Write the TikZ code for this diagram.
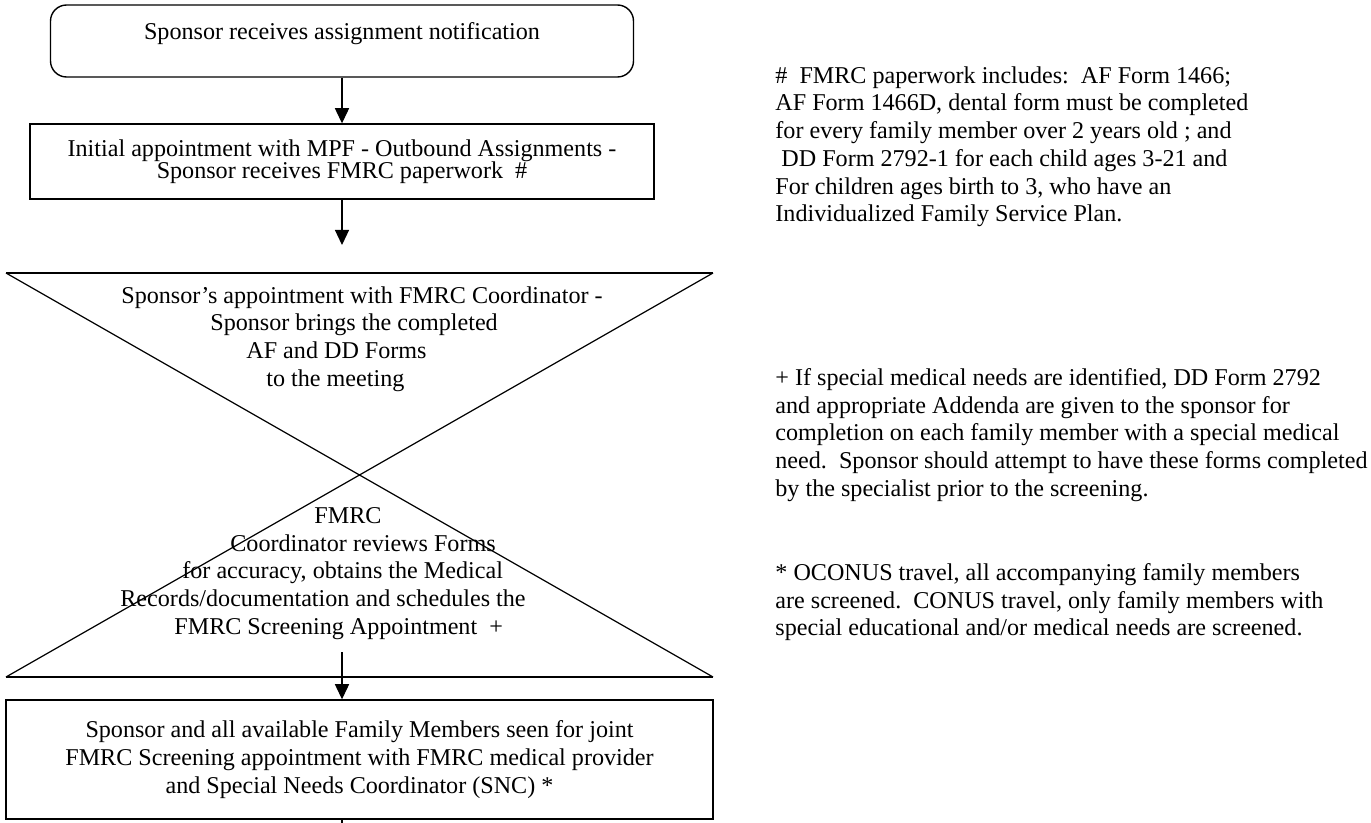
\documentclass[tikz,border=0pt]{standalone}
\usepackage{fontspec}
\setmainfont{Liberation Serif}
\usetikzlibrary{arrows.meta}
\newdimen\pxlen \pxlen=0.4975pt

\begin{document}
\begin{tikzpicture}[x=0.4975pt,y=-0.4975pt,
  every node/.style={font=\fontsize{12}{13.8}\selectfont},
  boite/.style={draw,line width=0.7pt,align=center,inner sep=0pt},
  fleche/.style={-{Triangle[length=7.5pt,width=7pt]},line width=0.6pt},
  note/.style={align=left,anchor=north west,inner sep=0pt}]
\useasboundingbox (0,0) rectangle (1371,823);
% les etapes a gauche
\node[boite,rounded corners=8pt,minimum width=583\pxlen,minimum height=72\pxlen] (notif) at (342,41) {};
\node[inner sep=0pt] (notifT) at (342,34) {Sponsor receives assignment notification};
\node[boite,minimum width=624\pxlen,minimum height=75\pxlen,font=\fontsize{12}{11}\selectfont] (assign) at (342,161.5) {Initial appointment with MPF - Outbound Assignments -\\ Sponsor receives FMRC paperwork\ \ \#};
\coordinate (finA) at (342,245) ;
\draw[fleche] (notif.south) -- (assign.north) ;
\draw[fleche] (assign.south) -- (finA) ;

% le sablier (X)
\coordinate (HG) at (6,273) ; \coordinate (HD) at (713,273) ;
\coordinate (BG) at (6,677) ; \coordinate (BD) at (713,677) ;
\draw[line width=0.6pt] (HD) -- (BG) (HG) -- (BD) ;
\draw[line width=1pt] (HG) -- (HD) (BG) -- (BD) ;
\node[note] (rdv) at (121,286) {Sponsor's appointment with FMRC Coordinator -\\ \hspace*{89\pxlen}Sponsor brings the completed\\ \hspace*{125\pxlen}AF and DD Forms\\ \hspace*{145\pxlen}to the meeting};
\node[note] (revue) at (120,507) {\hspace*{194\pxlen}FMRC\\ \hspace*{110\pxlen}Coordinator reviews Forms\\ \hspace*{62\pxlen}for accuracy, obtains the Medical\\ Records/documentation and schedules the\\ \hspace*{54\pxlen}FMRC Screening Appointment\ \ +};

\node[boite,minimum width=707\pxlen,minimum height=119\pxlen] (screen) at (359.5,759.5) {Sponsor and all available Family Members seen for joint\\ FMRC Screening appointment with FMRC medical provider\\ and Special Needs Coordinator (SNC) *};
\coordinate (debB) at (342,652) ;
\coordinate (finB) at (342,823) ;
\draw[fleche] (debB) -- (debB |- screen.north) ;
\draw[line width=0.6pt] (debB |- screen.south) -- (finB) ;

% les notes a droite
\node[note] (noteA) at (775,66) {\#\ \ FMRC paperwork includes:\ \ AF Form 1466;\\ AF Form 1466D, dental form must be completed\\ for every family member over 2 years old ; and\\ \ DD Form 2792-1 for each child ages 3-21 and\\ For children ages birth to 3, who have an\\ Individualized Family Service Plan.};
\node[note] (noteB) at (775,368) {+ If special medical needs are identified, DD Form 2792\\ and appropriate Addenda are given to the sponsor for\\ completion on each family member with a special medical\\ need.\ \ Sponsor should attempt to have these forms completed\\ by the specialist prior to the screening.};
\node[note] (noteC) at (775,563) {* OCONUS travel, all accompanying family members\\ are screened.\ \ CONUS travel, only family members with\\ special educational and/or medical needs are screened.};
\end{tikzpicture}
\end{document}
